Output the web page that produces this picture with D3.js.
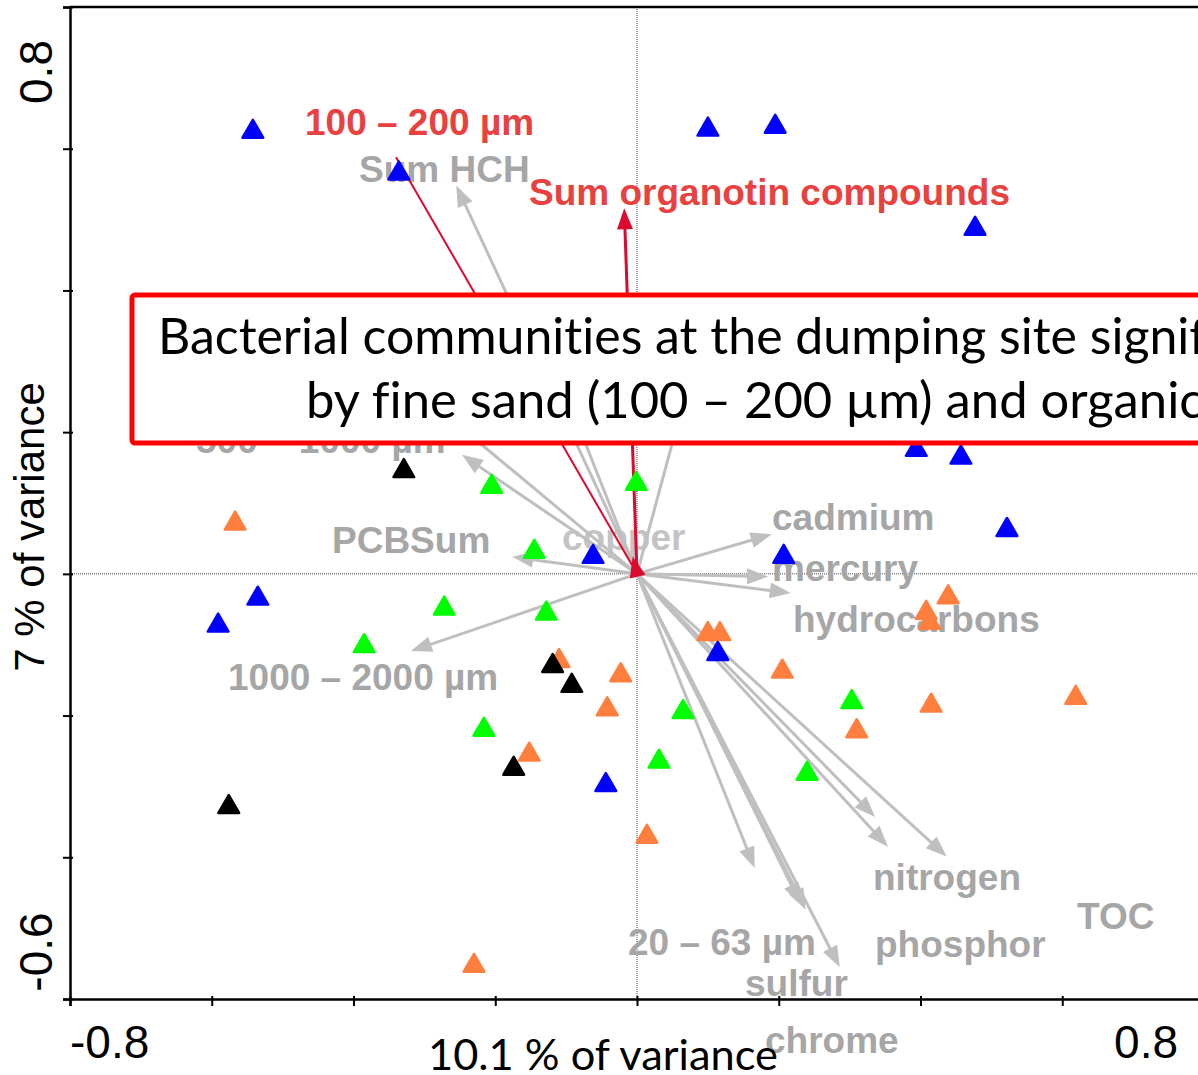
<!DOCTYPE html>
<meta charset="utf-8">
<style>

    body {
        margin: 0;
        background: #fff;
    }

    text {
        font-variant-ligatures: none;
    }

    .tick-label {
        font-family: "Liberation Sans", Arial, sans-serif;
        font-size: 46px;
        fill: #000;
    }

    .var-label {
        font-family: "Liberation Sans", Arial, sans-serif;
        font-weight: bold;
        font-size: 37px;
        fill: #a6a6a6;
    }

    .var-label.red {
        fill: #e8413f;
    }

    .var-label.light {
        fill: #c4c4c4;
    }

</style>
<svg width="1198" height="1075"></svg>
<script src="https://d3js.org/d3.v7.min.js"></script>
<script>

// sample scores (axis 1, axis 2)
var blueSites = [
    [-0.542, 0.624], [-0.336, 0.565], [0.100, 0.627], [0.195, 0.631], [0.477, 0.487],
    [0.394, 0.175], [0.457, 0.164], [0.522, 0.062], [0.207, 0.024], [-0.062, 0.024],
    [-0.535, -0.035], [-0.591, -0.073], [0.114, -0.113], [-0.044, -0.298]
];
var greenSites = [
    [-0.205, 0.123], [-0.001, 0.127], [-0.145, 0.031], [-0.272, -0.049], [-0.128, -0.056],
    [-0.385, -0.102], [0.065, -0.195], [-0.216, -0.220], [0.031, -0.265], [0.303, -0.181],
    [0.240, -0.282]
];
var orangeSites = [
    [-0.567, 0.071], [0.439, -0.033], [0.408, -0.055], [0.413, -0.069], [0.100, -0.085],
    [0.117, -0.085], [-0.110, -0.123], [-0.023, -0.143], [0.205, -0.138], [0.014, -0.371],
    [0.310, -0.222], [0.415, -0.186], [0.619, -0.175], [-0.152, -0.255], [-0.042, -0.191],
    [-0.230, -0.553]
];
var blackSites = [
    [-0.329, 0.145], [-0.119, -0.130], [-0.092, -0.158], [-0.174, -0.275], [-0.576, -0.329]
];

// environmental variables (arrow tips)
var envNames = ["Sum HCH", "var a", "var b", "500 – 1000 µm", "var c", "PCBSum",
    "cadmium", "mercury", "hydrocarbons", "1000 – 2000 µm",
    "var d", "var e", "var f", "var g", "var h", "var i", "var j"];
var envX = [-0.255, -0.117, -0.310, -0.247, 0.075, -0.176, 0.190, 0.185, 0.217, -0.319,
    0.336, 0.354, 0.437, 0.166, 0.231, 0.238, 0.286];
var envY = [0.548, 0.296, 0.258, 0.168, 0.278, 0.024, 0.056, -0.004, -0.027, -0.109,
    -0.343, -0.385, -0.399, -0.415, -0.466, -0.474, -0.555];

// significant variables
var sigNames = ["100 – 200 µm", "Sum organotin compounds", "short"];
var sigX = [-0.340, -0.018, -0.006];
var sigY = [0.588, 0.516, 0.025];

var grayLabels = ["Sum HCH", "500 – 1000 µm", "PCBSum", "copper", "cadmium", "mercury",
    "hydrocarbons", "1000 – 2000 µm", "nitrogen", "TOC", "phosphor", "20 – 63 µm", "sulfur", "chrome"];
var redLabels = ["100 – 200 µm", "Sum organotin compounds"];

var xTicks = [-0.8, -0.6, -0.4, -0.2, 0, 0.2, 0.4, 0.6, 0.8];
var yTicks = [-0.6, -0.4, -0.2, 0, 0.2, 0.4, 0.6, 0.8];
var xTickLabels = ["-0.8", "0.8"];
var yTickLabels = ["-0.6", "0.8"];
var xTitle = "10.1 % of variance";
var yTitle = "7 % of variance";
var boxLines = ["Bacterial communities at the dumping site significantly influenced",
    "by fine sand (100 – 200 µm) and organic pollutants"];

// label placement (start x, baseline y in px)
var labelPos = {
    "Sum HCH": [359, 182], "500 – 1000 µm": [196, 453], "PCBSum": [332, 553],
    "copper": [562, 550], "cadmium": [772, 530], "mercury": [772, 581],
    "hydrocarbons": [793, 632], "1000 – 2000 µm": [228, 690], "nitrogen": [873, 890],
    "TOC": [1077, 929], "phosphor": [875, 957], "20 – 63 µm": [628, 955],
    "sulfur": [745, 996], "chrome": [765, 1053],
    "100 – 200 µm": [305, 135], "Sum organotin compounds": [529, 205]
};

var svg = d3.select("svg");

var x = d3.scaleLinear().domain([-0.8, 0.8]).range([70, 1204]),
    y = d3.scaleLinear().domain([-0.6, 0.8]).range([999, 7]);

// zero lines
svg.append("line")
    .attr("x1", x(0)).attr("x2", x(0)).attr("y1", y(0.8)).attr("y2", y(-0.6))
    .attr("stroke", "#444").attr("stroke-width", 1).attr("stroke-dasharray", "1,1");
svg.append("line")
    .attr("x1", x(-0.8)).attr("x2", x(0.8)).attr("y1", y(0)).attr("y2", y(0))
    .attr("stroke", "#444").attr("stroke-width", 1).attr("stroke-dasharray", "1,1");

// variable labels
svg.selectAll(".gray-label")
    .data(grayLabels)
    .enter().append("text")
    .attr("class", function(d) { return d == "copper" ? "var-label light" : "var-label"; })
    .attr("x", function(d) { return labelPos[d][0]; })
    .attr("y", function(d) { return labelPos[d][1]; })
    .text(function(d) { return d; });

svg.selectAll(".red-label")
    .data(redLabels)
    .enter().append("text")
    .attr("class", "var-label red")
    .attr("x", function(d) { return labelPos[d][0]; })
    .attr("y", function(d) { return labelPos[d][1]; })
    .text(function(d) { return d; });

// arrows
function drawArrow(g, tx, ty, color, width, head) {
    var x0 = x(0), y0 = y(0), x1 = x(tx), y1 = y(ty);
    var dx = x1 - x0, dy = y1 - y0, len = Math.sqrt(dx * dx + dy * dy);
    var ux = dx / len, uy = dy / len;
    var hl = 21, hw = 8;
    var lineEnd = head ? Math.max(len - hl + 4, 0) : len;
    g.append("line")
        .attr("x1", x0).attr("y1", y0)
        .attr("x2", x0 + ux * lineEnd).attr("y2", y0 + uy * lineEnd)
        .attr("stroke", color).attr("stroke-width", width);
    if (head) {
        var bx = x1 - ux * hl, by = y1 - uy * hl;
        g.append("path")
            .attr("d", "M" + x1 + "," + y1 +
                "L" + (bx - uy * hw) + "," + (by + ux * hw) +
                "L" + (bx + uy * hw) + "," + (by - ux * hw) + "Z")
            .attr("fill", color);
    }
}

var arrows = svg.append("g");
envNames.forEach(function(n, i) {
    drawArrow(arrows, envX[i], envY[i], "#bfbfbf", 3, true);
});
sigNames.forEach(function(n, i) {
    drawArrow(arrows, sigX[i], sigY[i], "#dc0a2e", i == 0 ? 2 : 3, i != 0);
});

// sample points
var tri = d3.symbol().type(d3.symbolTriangle).size(185);
function drawSites(data, color) {
    svg.append("g").selectAll("path")
        .data(data)
        .enter().append("path")
        .attr("d", tri)
        .attr("transform", function(d) { return "translate(" + x(d[0]) + "," + y(d[1]) + ")"; })
        .attr("fill", color)
        .attr("stroke", color)
        .attr("stroke-width", 2.5)
        .attr("stroke-linejoin", "round");
}
drawSites(orangeSites, "#ff7f3f");
drawSites(greenSites, "#00ff00");
drawSites(blueSites, "#0000ff");
drawSites(blackSites, "#000000");

// callout box
svg.append("rect")
    .attr("x", 132).attr("y", 295).attr("width", 1200).attr("height", 148)
    .attr("rx", 3)
    .attr("fill", "#fff").attr("stroke", "#ff0000").attr("stroke-width", 5);

function fitSize(str, family, target) {
    var probe = svg.append("text").attr("font-family", family).attr("font-size", 100)
        .attr("xml:space", "preserve").text(str);
    var w = probe.node().getComputedTextLength();
    probe.remove();
    return 100 * target / w;
}

var boxSize = fitSize("Bacterial communities at the dumping site ", "Lato", 932);
svg.append("text")
    .attr("x", 158).attr("y", 354)
    .attr("font-family", "Lato").attr("font-size", boxSize).attr("fill", "#000")
    .text(boxLines[0]);
svg.append("text")
    .attr("x", 306).attr("y", 418)
    .attr("font-family", "Lato").attr("font-size", boxSize * 1.015).attr("fill", "#000")
    .text(boxLines[1]);

// axes
var xAxis = svg.append("g")
    .attr("transform", "translate(0," + y(-0.6) + ")")
    .call(d3.axisBottom(x).tickValues(xTicks).tickSize(7).tickFormat(""));
xAxis.selectAll(".tick line").attr("y1", -3).attr("stroke-width", 2);
xAxis.select(".domain").attr("stroke-width", 2.5);

var yAxis = svg.append("g")
    .attr("transform", "translate(" + x(-0.8) + ",0)")
    .call(d3.axisLeft(y).tickValues(yTicks).tickSize(7).tickFormat(""));
yAxis.selectAll(".tick line").attr("x1", 3).attr("stroke-width", 2);
yAxis.select(".domain").attr("stroke-width", 2.5);

svg.append("line")
    .attr("x1", x(-0.8)).attr("x2", x(0.8)).attr("y1", y(0.8)).attr("y2", y(0.8))
    .attr("stroke", "#000").attr("stroke-width", 2.5);
svg.append("line")
    .attr("x1", x(0.8)).attr("x2", x(0.8)).attr("y1", y(0.8)).attr("y2", y(-0.6))
    .attr("stroke", "#000").attr("stroke-width", 2.5);

// tick labels
svg.append("text").attr("class", "tick-label")
    .attr("x", x(-0.8)).attr("y", 1058)
    .text(xTickLabels[0]);
svg.append("text").attr("class", "tick-label")
    .attr("x", x(0.8) - 26).attr("y", 1058).attr("text-anchor", "end")
    .text(xTickLabels[1]);
svg.append("text").attr("class", "tick-label")
    .attr("transform", "translate(52," + (y(-0.6) - 47) + ") rotate(-90)")
    .attr("text-anchor", "middle")
    .text(yTickLabels[0]);
svg.append("text").attr("class", "tick-label")
    .attr("transform", "translate(52," + (y(0.8) + 65) + ") rotate(-90)")
    .attr("text-anchor", "middle")
    .text(yTickLabels[1]);

// axis titles
var xTitleSize = fitSize(xTitle, "Lato", 350);
svg.append("text")
    .attr("x", 428).attr("y", 1070)
    .attr("font-family", "Lato").attr("font-size", xTitleSize).attr("fill", "#000")
    .text(xTitle);
svg.append("text")
    .attr("transform", "translate(44,527) rotate(-90)")
    .attr("text-anchor", "middle")
    .attr("font-family", "'Liberation Sans', Arial, sans-serif").attr("font-size", 42).attr("fill", "#000")
    .text(yTitle);

</script>
